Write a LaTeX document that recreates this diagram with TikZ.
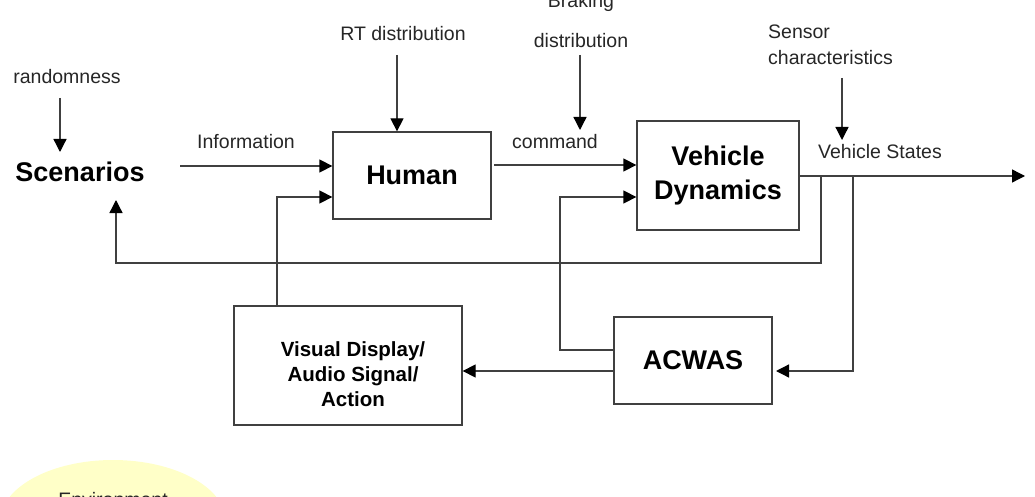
\documentclass[tikz,border=0pt]{standalone}
\usepackage{fontspec}
\setmainfont{Liberation Sans}
\usetikzlibrary{arrows.meta,shapes.geometric}
\begin{document}
\begin{tikzpicture}[x=1pt,y=-1pt,
  line/.style={line width=1.3pt, draw=black!75},
  arr/.style={line, -{Triangle[length=13pt,width=13pt,fill=black,color=black]}},
  box/.style={draw=black!75, line width=1.3pt, rectangle, inner sep=0pt, align=center},
  lab/.style={font=\fontsize{19.5}{26}\selectfont, inner sep=0pt, text=black!85},
  blab/.style={font=\bfseries\fontsize{27}{34}\selectfont, inner sep=0pt},
  mlab/.style={font=\bfseries\fontsize{20.5}{25}\selectfont}]
\clip (0,0) rectangle (1035,497);
\useasboundingbox (0,0) rectangle (1035,497);
% environment
\node[ellipse, fill={rgb,255:red,255;green,255;blue,200}, minimum width=226pt, minimum height=124pt, inner sep=0pt] (env) at (113,522) {};
\node[lab] (envt) at (113,500) {Environment};
% blocks
\node[blab] (scen) at (80,172) {Scenarios};
\node[box, blab, minimum width=158pt, minimum height=87pt] (human) at (412,175.5) {Human};
\node[box, blab, minimum width=162pt, minimum height=109pt] (veh) at (718,175.5) {Vehicle\\Dynamics};
\node[box, blab, minimum width=158pt, minimum height=87pt] (acwas) at (693,360.5) {ACWAS};
\node[box, minimum width=228pt, minimum height=119pt] (vis) at (348,365.5) {};
\node[mlab, align=center, inner sep=0pt] (vist) at (353,374) {Visual Display/\\ Audio Signal/\\Action};
% labels
\node[lab] (rand) at (67,77) {randomness};
\node[lab] (rt) at (403,34) {RT distribution};
\node[lab] (brk) at (581,2) {Braking};
\node[lab] (dist) at (581,41) {distribution};
\node[lab, anchor=west, align=left, font=\fontsize{19.5}{26}\selectfont] (sens) at (768,45) {Sensor\\characteristics};
\node[lab] (info) at (246,142) {Information};
\node[lab] (cmd) at (555,142) {command};
\node[lab] (vst) at (880,152) {Vehicle States};
% coordinates
\coordinate (r0) at (60,98);
\coordinate (i0) at (180,166);
\coordinate (rt0) at (397,55);
\coordinate (b0) at (580,55);
\coordinate (s0) at (842,78);
\coordinate (c0) at (494,165);
\coordinate (out) at (1025,176);
\coordinate (fa) at (821,176);
\coordinate (fb) at (853,176);
\coordinate (vf) at (277,306);
\coordinate (af) at (560,350);
% connectors
\draw[arr] (r0) -- (60,152);
\draw[arr] (i0) -- (i0 -| human.west);
\draw[arr] (rt0) -- (rt0 |- human.north);
\draw[arr] (b0) -- (580,130);
\draw[arr] (s0) -- (842,140);
\draw[arr] (c0) -- (c0 -| veh.west);
\draw[arr] (veh.east |- out) -- (out);
\draw[arr] (vf) |- (human.west |- 0,197);
\draw[arr] (acwas.west |- af) -| (560,197) -- (veh.west |- 0,197);
\draw[arr] (fa) -- (821,263) -| (116,200);
\draw[arr] (fb) -- (853,371) -- (776,371);
\draw[arr] (acwas.west |- 0,371) -- (vis.east |- 0,371);
\end{tikzpicture}
\end{document}
